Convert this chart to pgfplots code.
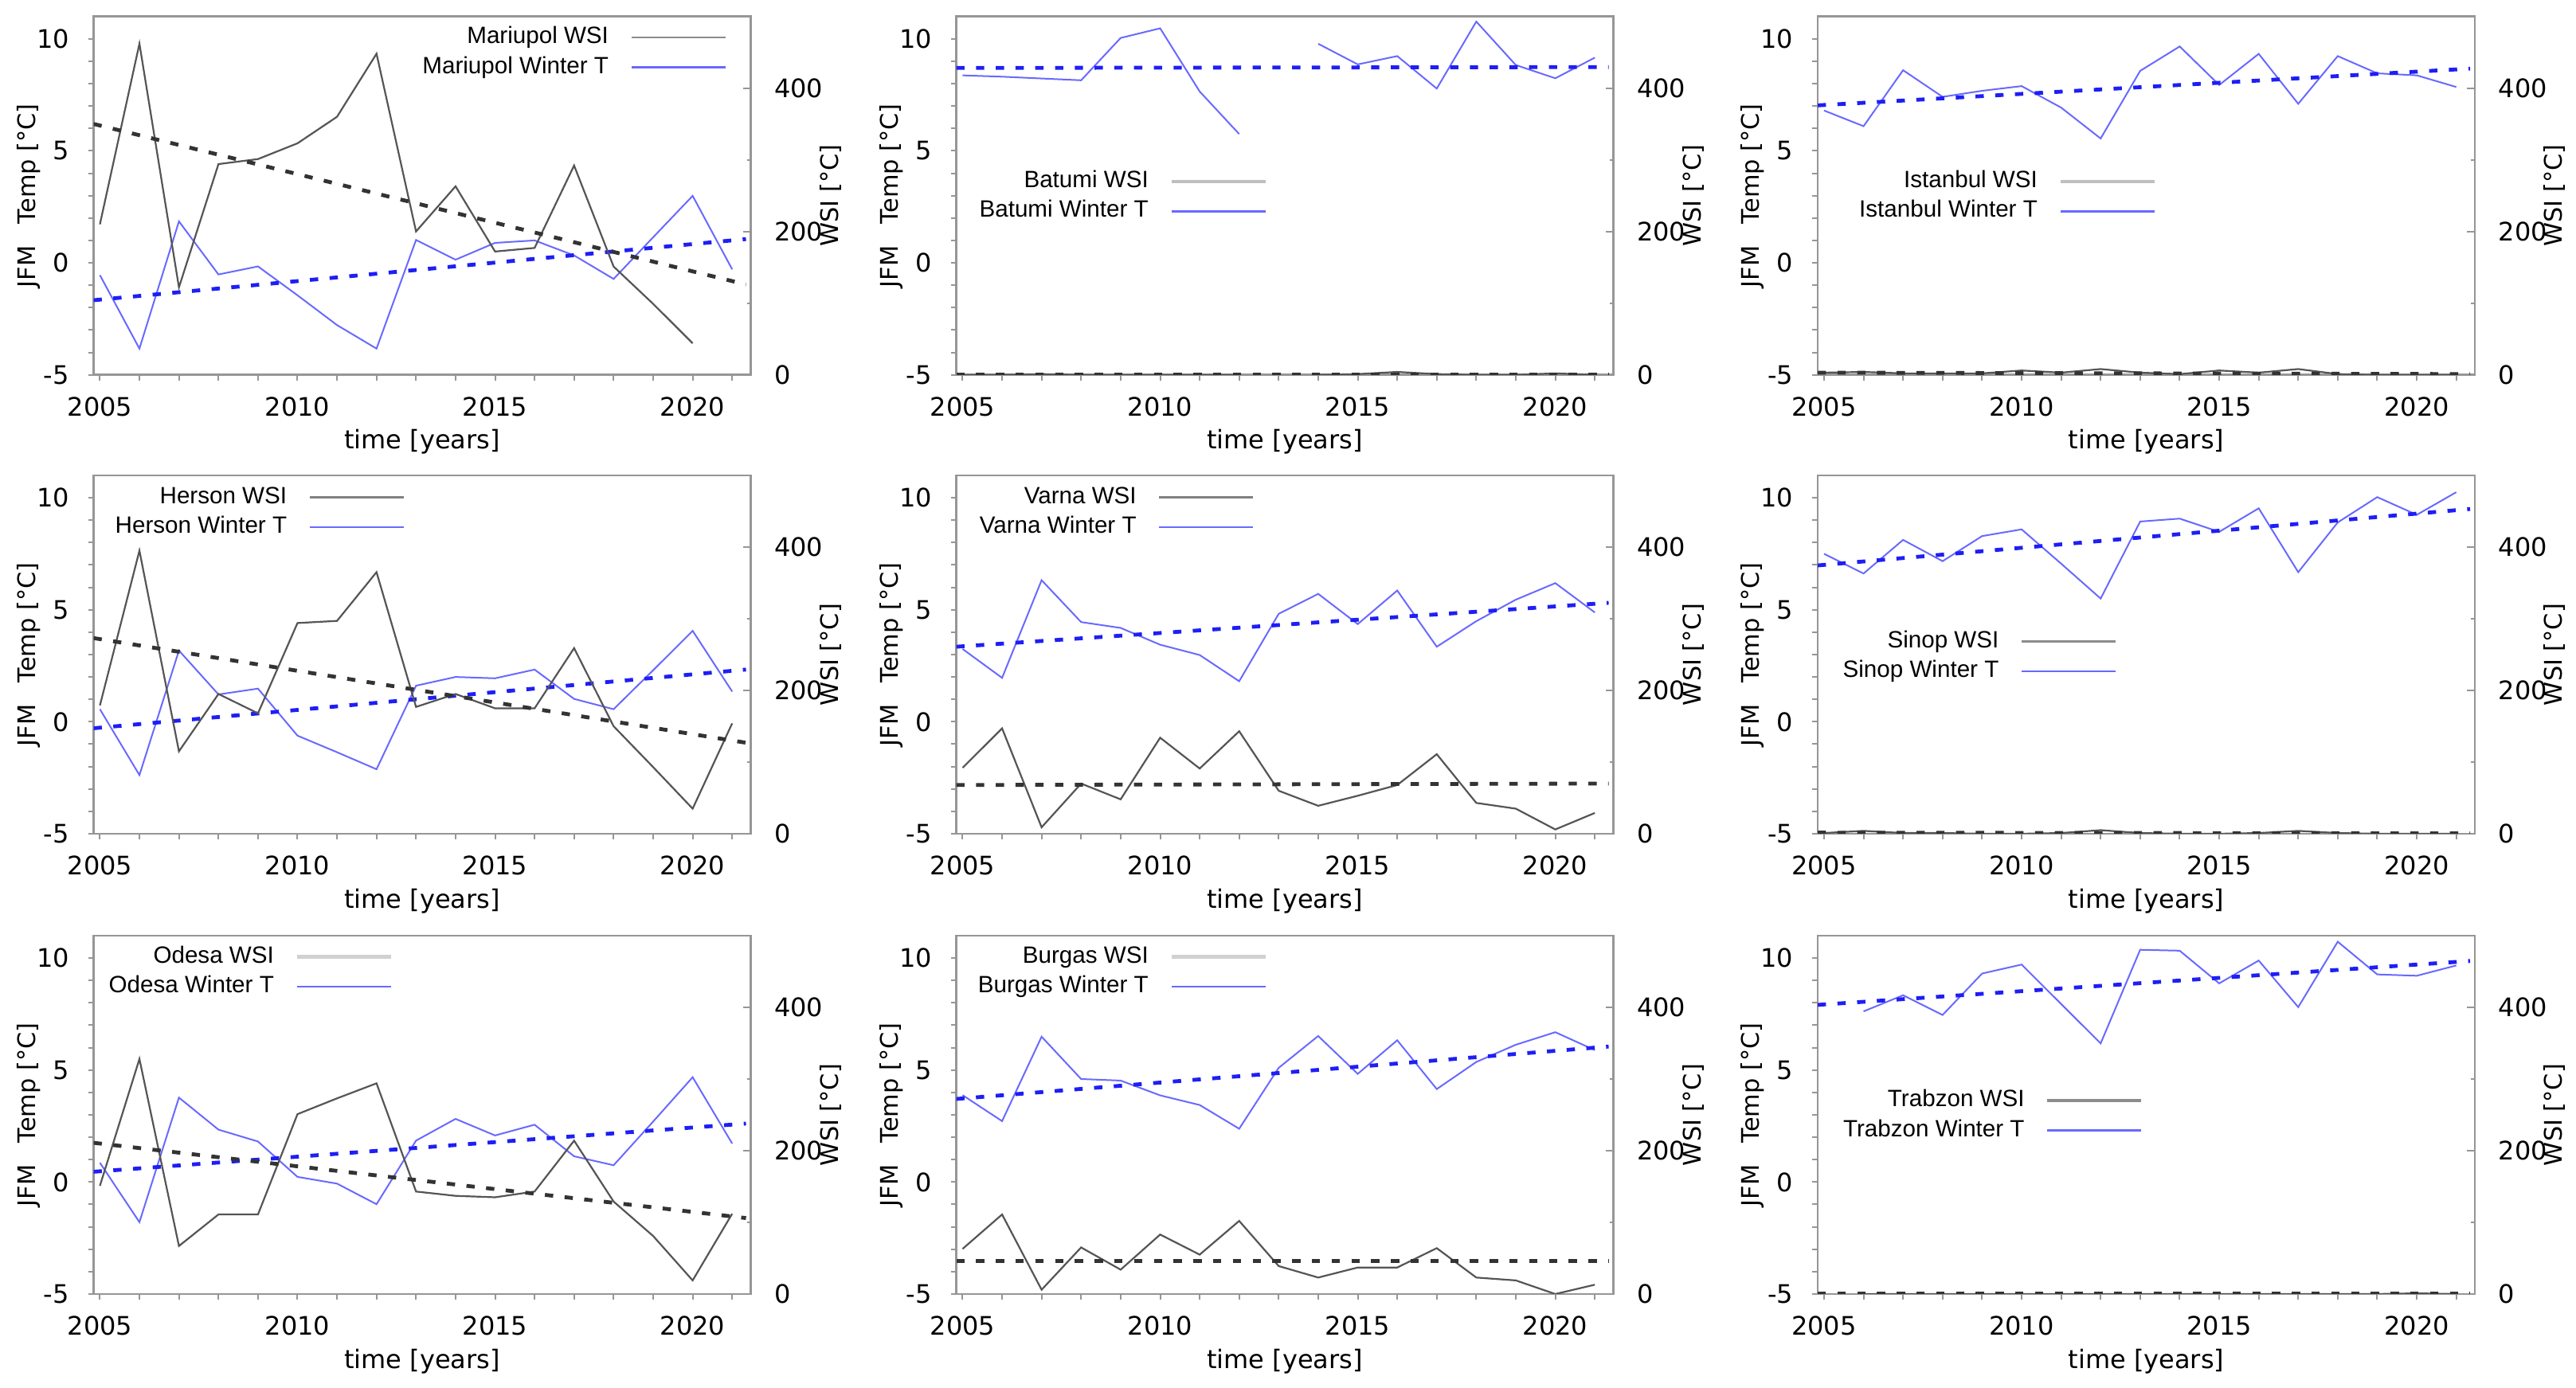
\documentclass[border=0pt]{standalone}
\usepackage{fontspec}
\setmainfont{DejaVu Sans}
\newfontfamily\legfont{Liberation Sans}
\usepackage{pgfplots}
\pgfplotsset{compat=1.18}
\definecolor{axgray}{RGB}{150,150,150}
\definecolor{tblue}{RGB}{105,105,255}
\definecolor{trblue}{RGB}{30,30,245}
\definecolor{wgray}{RGB}{85,85,85}
\pgfplotsset{
  tline/.style={tblue, line width=0.5pt},
  wline/.style={wgray, line width=0.55pt},
  ttrend/.style={trblue, line width=1.2pt, dash pattern=on 2.6pt off 3.6pt},
  wtrend/.style={black!80, line width=1.2pt, dash pattern=on 2.6pt off 3.6pt},
  base/.style={
    scale only axis, width=206.25pt, height=112.5pt, anchor=south west,
    xmin=2004.84, xmax=2021.47,
    unbounded coords=jump,
    /pgf/number format/assume math mode=true,
    /pgf/number format/1000 sep={},
    tick label style={font=\fontsize{8}{9.6}\selectfont, black},
    axis line style={axgray, line width=0.6pt},
    tick style={axgray, line width=0.5pt},
  },
  leftax/.style={base,
    ymin=-5, ymax=11,
    xtick={2005,2010,2015,2020},
    minor xtick={2006,2007,2008,2009,2011,2012,2013,2014,2016,2017,2018,2019,2021},
    ytick={-5,0,5,10},
    minor ytick={-4,-3,-2,-1,1,2,3,4,6,7,8,9},
    xtick pos=left, ytick pos=left,
    tick align=outside, major tick length=1.75pt, minor tick length=1.75pt,
    xlabel={time [years]}, ylabel={JFM\hspace{0.9em}Temp [°C]},
    every axis x label/.style={at={(axis description cs:0.5,-0.1876)}, anchor=center, font=\fontsize{8}{9.6}\selectfont},
    every axis y label/.style={at={(axis description cs:-0.0989,0.5)}, rotate=90, anchor=center, font=\fontsize{7.6}{9}\selectfont},
    xticklabel style={yshift=-1.7pt},
    yticklabel style={xshift=-2.4pt},
  },
  rightax/.style={base,
    axis y line*=right, axis x line=none,
    ymin=0, ymax=500, ytick={0,200,400}, minor ytick={100,300},
    ytick align=inside, major tick length=2.5pt, minor tick length=1.25pt,
    ylabel={WSI [°C]},
    every axis y label/.style={at={(axis description cs:1.1212,0.5)}, rotate=90, anchor=center, font=\fontsize{7.6}{9}\selectfont},
    yticklabel style={xshift=3.9pt},
    legend style={draw=none, fill=none, inner sep=0pt, font=\legfont\fontsize{7.4}{8.6}\selectfont,
      row sep=0pt, column sep=0pt, nodes={inner sep=1.2pt, text height=5.4pt, text depth=1.6pt}},
    legend cell align=right,
    legend plot pos=right,
    legend image code/.code={\path[draw=none] (0pt,0pt) -- (6pt,0pt); \draw[#1] (6pt,0pt) -- (35.5pt,0pt);},
  },
}
% #1 position, #2 name, #3 temp, #4 wsi, #5 temp trend, #6 wsi trend, #7 legend pos, #8 legend wsi style
\newcommand{\panel}[8]{%
\begin{axis}[leftax, at={(#1)}]
\addplot[tline] coordinates {#3};
\addplot[ttrend] coordinates {#5};
\end{axis}
\begin{axis}[rightax, at={(#1)}, legend style={at={(#7)}, anchor=east}]
\addplot[wline, forget plot] coordinates {#4};
\addplot[wtrend, forget plot] coordinates {#6};
\addlegendimage{#8}
\addlegendentry{#2 WSI}
\addlegendimage{tblue, line width=0.6pt}
\addlegendentry{#2 Winter T}
\end{axis}}
\begin{document}
\begin{tikzpicture}
\path[use as bounding box] (0,0) rectangle (808.5pt,435.75pt);
% Row 1
\panel{29.375pt,318.08pt}{Mariupol}
{(2005,-0.55)(2006,-3.83)(2007,1.85)(2008,-0.52)(2009,-0.16)(2010,-1.45)(2011,-2.78)(2012,-3.83)(2013,1.02)(2014,0.14)(2015,0.89)(2016,1.0)(2017,0.33)(2018,-0.72)(2019,1.14)(2020,2.99)(2021,-0.29)}
{(2005,210)(2006,462)(2007,122)(2008,294)(2009,301)(2010,323)(2011,360)(2012,448)(2013,200)(2014,263)(2015,172)(2016,177)(2017,292)(2018,151)(2019,99)(2020,44)}
{(2004.84,-1.67)(2021.35,1.06)}
{(2004.84,350)(2021.35,126)}
{0.964,0.900}{black!45, line width=0.6pt}
\panel{300.125pt,318.08pt}{Batumi}
{(2005,8.37)(2006,8.31)(2007,8.23)(2008,8.15)(2009,10.04)(2010,10.47)(2011,7.65)(2012,5.75)(2013,nan)(2014,9.78)(2015,8.86)(2016,9.23)(2017,7.78)(2018,10.77)(2019,8.83)(2020,8.24)(2021,9.16)}
{(2005,0)(2006,0)(2007,1)(2008,0)(2009,0)(2010,0)(2011,0)(2012,0)(2013,nan)(2014,0)(2015,1)(2016,4)(2017,1)(2018,0)(2019,0)(2020,2)(2021,0)}
{(2004.84,8.70)(2021.35,8.74)}
{(2004.84,0.5)(2021.35,0.5)}
{0.474,0.498}{black!25, line width=1.1pt}
\panel{570.5pt,318.08pt}{Istanbul}
{(2005,6.80)(2006,6.10)(2007,8.60)(2008,7.41)(2009,7.68)(2010,7.89)(2011,6.93)(2012,5.55)(2013,8.57)(2014,9.66)(2015,7.94)(2016,9.33)(2017,7.10)(2018,9.23)(2019,8.46)(2020,8.37)(2021,7.85)}
{(2005,3)(2006,4)(2007,2)(2008,2)(2009,2)(2010,6)(2011,3)(2012,8)(2013,3)(2014,1)(2015,6)(2016,3)(2017,8)(2018,1)(2019,0)(2020,0)(2021,0)}
{(2004.84,7.03)(2021.35,8.67)}
{(2004.84,3)(2021.35,1)}
{0.516,0.498}{black!25, line width=1.1pt}
% Row 2
\panel{29.375pt,174.0pt}{Herson}
{(2005,0.56)(2006,-2.38)(2007,3.18)(2008,1.22)(2009,1.48)(2010,-0.62)(2011,-1.36)(2012,-2.12)(2013,1.61)(2014,2.0)(2015,1.94)(2016,2.33)(2017,1.02)(2018,0.56)(2019,2.30)(2020,4.06)(2021,1.35)}
{(2005,179)(2006,395)(2007,115)(2008,195)(2009,168)(2010,294)(2011,297)(2012,365)(2013,177)(2014,195)(2015,175)(2016,175)(2017,259)(2018,150)(2019,93)(2020,35)(2021,154)}
{(2004.84,-0.29)(2021.35,2.33)}
{(2004.84,273)(2021.35,127)}
{0.475,0.897}{black!50, line width=0.8pt}
\panel{300.125pt,174.0pt}{Varna}
{(2005,3.25)(2006,1.96)(2007,6.32)(2008,4.45)(2009,4.19)(2010,3.44)(2011,2.98)(2012,1.81)(2013,4.82)(2014,5.71)(2015,4.36)(2016,5.86)(2017,3.35)(2018,4.49)(2019,5.45)(2020,6.19)(2021,4.88)}
{(2005,92)(2006,147)(2007,9)(2008,70)(2009,48)(2010,134)(2011,91)(2012,143)(2013,60)(2014,39)(2015,53)(2016,68)(2017,111)(2018,43)(2019,35)(2020,6)(2021,29)}
{(2004.84,3.35)(2021.35,5.31)}
{(2004.84,68)(2021.35,70)}
{0.455,0.897}{black!50, line width=0.8pt}
\panel{570.5pt,174.0pt}{Sinop}
{(2005,7.50)(2006,6.62)(2007,8.12)(2008,7.17)(2009,8.29)(2010,8.59)(2011,7.06)(2012,5.50)(2013,8.94)(2014,9.07)(2015,8.48)(2016,9.53)(2017,6.68)(2018,8.90)(2019,10.03)(2020,9.24)(2021,10.25)}
{(2005,1)(2006,4)(2007,1)(2008,1)(2009,0)(2010,0)(2011,1)(2012,5)(2013,1)(2014,0)(2015,0)(2016,1)(2017,4)(2018,1)(2019,0)(2020,0)(2021,0)}
{(2004.84,6.98)(2021.35,9.50)}
{(2004.84,1.5)(2021.35,0.5)}
{0.456,0.495}{black!45, line width=0.6pt}
% Row 3
\panel{29.375pt,29.5pt}{Odesa}
{(2005,0.86)(2006,-1.79)(2007,3.77)(2008,2.34)(2009,1.81)(2010,0.23)(2011,-0.07)(2012,-0.99)(2013,1.85)(2014,2.82)(2015,2.08)(2016,2.56)(2017,1.15)(2018,0.75)(2019,2.70)(2020,4.68)(2021,1.72)}
{(2005,151)(2006,328)(2007,67)(2008,111)(2009,111)(2010,251)(2011,273)(2012,294)(2013,143)(2014,137)(2015,135)(2016,143)(2017,214)(2018,129)(2019,81)(2020,19)(2021,112)}
{(2004.84,0.46)(2021.35,2.61)}
{(2004.84,211)(2021.35,106)}
{0.456,0.899}{black!18, line width=1.1pt}
\panel{300.125pt,29.5pt}{Burgas}
{(2005,3.88)(2006,2.72)(2007,6.49)(2008,4.60)(2009,4.53)(2010,3.87)(2011,3.44)(2012,2.38)(2013,5.10)(2014,6.52)(2015,4.83)(2016,6.33)(2017,4.15)(2018,5.36)(2019,6.13)(2020,6.69)(2021,5.89)}
{(2005,63)(2006,111)(2007,6)(2008,65)(2009,34)(2010,83)(2011,55)(2012,102)(2013,39)(2014,23)(2015,37)(2016,37)(2017,64)(2018,23)(2019,19)(2020,0)(2021,13)}
{(2004.84,3.71)(2021.35,6.05)}
{(2004.84,46)(2021.35,46)}
{0.474,0.899}{black!18, line width=1.1pt}
\panel{570.5pt,29.5pt}{Trabzon}
{(2006,7.62)(2007,8.34)(2008,7.46)(2009,9.31)(2010,9.71)(2011,7.95)(2012,6.19)(2013,10.37)(2014,10.33)(2015,8.87)(2016,9.89)(2017,7.81)(2018,10.73)(2019,9.27)(2020,9.21)(2021,9.67)}
{(2006,0)(2007,0)(2008,0)(2009,0)(2010,0)(2011,0)(2012,0)(2013,0)(2014,0)(2015,0)(2016,0)(2017,0)(2018,0)(2019,0)(2020,1)(2021,0)}
{(2004.84,7.91)(2021.35,9.87)}
{(2004.84,0.3)(2021.35,0.3)}
{0.4955,0.498}{black!45, line width=0.8pt}
\end{tikzpicture}
\end{document}
